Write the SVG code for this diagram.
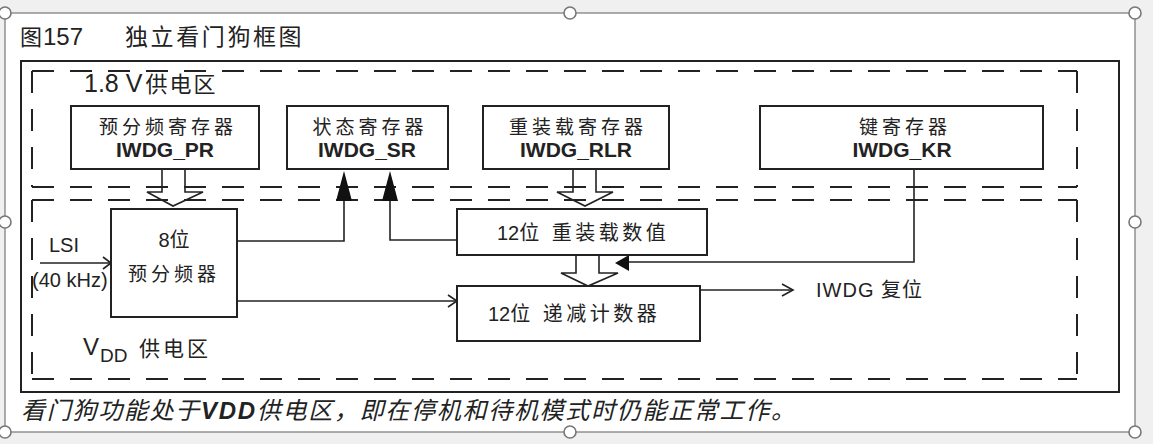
<svg xmlns="http://www.w3.org/2000/svg" width="1153" height="444" viewBox="0 0 1153 444">
<style>
.bx{fill:#fff;stroke:#222;stroke-width:2}
.dash{fill:none;stroke:#222;stroke-width:2;stroke-dasharray:22 16}
.ln{fill:none;stroke:#222;stroke-width:1.6}
.hol{fill:none;stroke:#222;stroke-width:1.6;stroke-linejoin:miter}
.fa{fill:#111;stroke:none}
.t{font-family:"Liberation Sans","Noto Sans CJK SC",sans-serif;fill:#222}
.cn{font-family:"Noto Sans CJK SC",sans-serif;fill:#222}
.reg{font-size:19px;letter-spacing:4px;text-anchor:middle}
.bold{font-size:21px;font-weight:bold;text-anchor:middle}
.handle{fill:#fff;stroke:#777;stroke-width:1.6}
</style>
<rect x="0" y="0" width="1153" height="444" fill="#f0f0f0"/>
<rect x="5" y="13" width="1130" height="419" fill="#fff" stroke="#777" stroke-width="1.2"/>

<g id="title">
<text class="cn" x="20" y="45" font-size="22">图</text>
<text class="t" x="43" y="45" font-size="24">157</text>
<text class="cn" x="125" y="45" font-size="23" letter-spacing="2.6">独立看门狗框图</text>
</g>

<g id="frame">
<rect x="21" y="61" width="1098" height="331" fill="none" stroke="#222" stroke-width="2"/>
</g>

<g id="zone-18v">
<line class="dash" x1="32" y1="71" x2="1077" y2="71"/>
<line class="dash" x1="32" y1="187" x2="1077" y2="187"/>
<line class="dash" x1="32" y1="71" x2="32" y2="187"/>
<line class="dash" x1="1077" y1="71" x2="1077" y2="187"/>
<text class="t" x="84" y="92" font-size="25">1.8 V<tspan class="cn" font-size="22" letter-spacing="2" dx="3">供电区</tspan></text>
</g>

<g id="zone-vdd">
<line class="dash" x1="32" y1="200" x2="1077" y2="200"/>
<line class="dash" x1="32" y1="379" x2="1077" y2="379"/>
<line class="dash" x1="32" y1="200" x2="32" y2="379"/>
<line class="dash" x1="1077" y1="200" x2="1077" y2="379"/>
<text class="t" x="83" y="355" font-size="24">V</text>
<text class="t" x="100" y="362" font-size="19">DD</text>
<text class="cn" x="139" y="356" font-size="21" letter-spacing="3">供电区</text>
</g>

<g id="connectors">
<polygon class="hol" points="162,169 185,169 185,192 203,192 173,206 147,192 162,192"/>
<polygon class="hol" points="573,169 596,169 596,192 613,192 585,206 557,192 573,192"/>
<polygon class="hol" points="576,255 599,255 599,273 618,273 588,286 561,273 576,273"/>
<polyline class="ln" points="40,263 110,263"/>
<polyline class="ln" points="103,257 111,263 103,269"/>
<polyline class="ln" points="237,301 456,301"/>
<polyline class="ln" points="448,295 457,301 448,307"/>
<polyline class="ln" points="237,241 344,241 344,200"/>
<polygon class="fa" points="344,171 352,201 336,201"/>
<polyline class="ln" points="457,240 390,240 390,200"/>
<polygon class="fa" points="390,171 398,201 382,201"/>
<polyline class="ln" points="914,169 914,262 628,262"/>
<polygon class="fa" points="615,263 629,255 629,271"/>
<polyline class="ln" points="700,290 792,290"/>
<polyline class="ln" points="782,284 793,290 782,296"/>
</g>

<g id="node-pr">
<rect class="bx" x="71" y="106" width="188" height="63"/>
<text class="cn reg" x="168" y="134">预分频寄存器</text>
<text class="t bold" x="165" y="157">IWDG_PR</text>
</g>
<g id="node-sr">
<rect class="bx" x="287" y="106" width="161" height="63"/>
<text class="cn reg" x="370" y="134">状态寄存器</text>
<text class="t bold" x="367" y="157">IWDG_SR</text>
</g>
<g id="node-rlr">
<rect class="bx" x="483" y="106" width="186" height="63"/>
<text class="cn reg" x="578" y="134">重装载寄存器</text>
<text class="t bold" x="576" y="157">IWDG_RLR</text>
</g>
<g id="node-kr">
<rect class="bx" x="760" y="106" width="283" height="63"/>
<text class="cn reg" x="905" y="134">键寄存器</text>
<text class="t bold" x="902" y="157">IWDG_KR</text>
</g>

<g id="node-lsi">
<text class="t" x="49" y="252" font-size="20">LSI</text>
<text class="t" x="32" y="287" font-size="20">(40 kHz)</text>
</g>

<g id="node-prescaler">
<rect class="bx" x="111" y="209" width="126" height="108"/>
<text class="t" x="174" y="247" font-size="20" text-anchor="middle">8位</text>
<text class="cn" x="174" y="281" font-size="19" letter-spacing="4" text-anchor="middle">预分频器</text>
</g>

<g id="node-reload">
<rect class="bx" x="457" y="209" width="250" height="46"/>
<text class="t" x="497" y="240" font-size="20">12<tspan letter-spacing="3.5">位 重装载数值</tspan></text>
</g>

<g id="node-counter">
<rect class="bx" x="457" y="286" width="243" height="55"/>
<text class="t" x="488" y="321" font-size="20">12<tspan letter-spacing="3.5">位 递减计数器</tspan></text>
</g>

<g id="node-reset">
<text class="t" x="816" y="297" font-size="20" letter-spacing="1">IWDG 复位</text>
</g>

<g id="caption">
<text class="t" x="21" y="419" font-size="24" font-style="italic" textLength="774" lengthAdjust="spacing">看门狗功能处于<tspan font-weight="bold">VDD</tspan>供电区，即在停机和待机模式时仍能正常工作。</text>
</g>

<g id="handles">
<circle class="handle" cx="5" cy="13" r="6"/>
<circle class="handle" cx="570" cy="13" r="6"/>
<circle class="handle" cx="1135" cy="13" r="6"/>
<circle class="handle" cx="5" cy="222" r="6"/>
<circle class="handle" cx="1135" cy="222" r="6"/>
<circle class="handle" cx="5" cy="432" r="6"/>
<circle class="handle" cx="570" cy="432" r="6"/>
<circle class="handle" cx="1135" cy="432" r="6"/>
</g>
</svg>
